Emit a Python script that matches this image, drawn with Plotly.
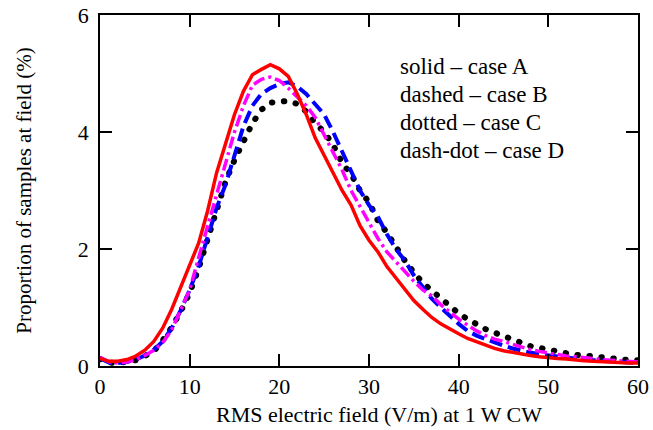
import plotly.graph_objects as go

field = list(range(0, 61))

case_a = [0.13, 0.08, 0.08, 0.11, 0.17, 0.27, 0.42, 0.65, 0.97, 1.35, 1.7,
          2.1, 2.65, 3.3, 3.8, 4.3, 4.7, 4.98, 5.07, 5.15, 5.08,
          4.95, 4.65, 4.3, 3.9, 3.6, 3.3, 3.0, 2.75, 2.4, 2.15,
          1.95, 1.7, 1.5, 1.3, 1.12, 0.97, 0.83, 0.72, 0.63, 0.55,
          0.47, 0.41, 0.35, 0.3, 0.26, 0.23, 0.2, 0.18, 0.16, 0.14,
          0.13, 0.12, 0.1, 0.09, 0.08, 0.07, 0.06, 0.06, 0.05, 0.05]

case_b = [0.13, 0.06, 0.05, 0.07, 0.11, 0.18, 0.28, 0.42, 0.65, 0.95, 1.3,
          1.7, 2.2, 2.7, 3.1, 3.6, 4.1, 4.45, 4.65, 4.75, 4.82,
          4.85, 4.78, 4.65, 4.47, 4.3, 4.0, 3.67, 3.35, 3.0, 2.75,
          2.55, 2.25, 2.0, 1.8, 1.55, 1.35, 1.15, 1.0, 0.85, 0.72,
          0.6, 0.52, 0.46, 0.4, 0.35, 0.3, 0.26, 0.23, 0.2, 0.18,
          0.16, 0.14, 0.13, 0.11, 0.1, 0.09, 0.08, 0.07, 0.06, 0.05]

case_c = [0.12, 0.06, 0.05, 0.07, 0.1, 0.17, 0.25, 0.44, 0.66, 0.93, 1.25,
          1.67, 2.15, 2.65, 3.15, 3.52, 3.86, 4.15, 4.38, 4.5, 4.52,
          4.53, 4.48, 4.35, 4.15, 4.0, 3.78, 3.47, 3.28, 3.0, 2.8,
          2.48, 2.28, 2.03, 1.8, 1.6, 1.42, 1.29, 1.15, 1.02, 0.9,
          0.8, 0.71, 0.63, 0.57, 0.51, 0.46, 0.39, 0.34, 0.31, 0.28,
          0.25, 0.21, 0.19, 0.18, 0.16, 0.14, 0.13, 0.11, 0.1, 0.1]

case_d = [0.15, 0.07, 0.05, 0.07, 0.11, 0.18, 0.27, 0.4, 0.62, 0.95, 1.3,
          1.85, 2.4, 2.9, 3.45, 4.0, 4.45, 4.8, 4.9, 4.94, 4.88,
          4.75, 4.6, 4.45, 4.25, 3.95, 3.65, 3.35, 3.0, 2.72, 2.45,
          2.18, 1.95, 1.78, 1.6, 1.45, 1.3, 1.2, 1.05, 0.93, 0.8,
          0.7, 0.6, 0.52, 0.46, 0.42, 0.37, 0.32, 0.28, 0.25, 0.22,
          0.19, 0.17, 0.16, 0.14, 0.12, 0.11, 0.1, 0.09, 0.08, 0.07]

notes = ["solid \u2013 case A", "dashed \u2013 case B",
         "dotted \u2013 case C", "dash-dot \u2013 case D"]

x_title = "RMS electric field (V/m) at 1 W CW"
y_title = "Proportion of samples at field (%)"

x_ticks = [0, 10, 20, 30, 40, 50, 60]
y_ticks = [0, 2, 4, 6]

FONT = "Liberation Serif, Times New Roman, serif"

fig = go.Figure()
fig.add_trace(go.Scatter(x=field, y=case_c, mode="lines", name="C",
                         line=dict(color="black", width=6, dash="0.5px,11.5px")))
fig.add_trace(go.Scatter(x=field, y=case_b, mode="lines", name="B",
                         line=dict(color="#0000ff", width=4, dash="13px,6px")))
fig.add_trace(go.Scatter(x=field, y=case_d, mode="lines", name="D",
                         line=dict(color="#ff00ff", width=3.5, dash="12px,4px,3px,4px")))
fig.add_trace(go.Scatter(x=field, y=case_a, mode="lines", name="A",
                         line=dict(color="#ff0000", width=3.5)))

for i, t in enumerate(notes):
    fig.add_annotation(text=t, xref="paper", yref="paper",
                       x=0.553, y=0.853 - i * 0.0798, xanchor="left", yanchor="middle",
                       showarrow=False, font=dict(family=FONT, size=23, color="black"))

# x-axis title placed as paper text so it can sit low like in the reference
fig.add_annotation(text=x_title, xref="paper", yref="paper",
                   x=0.518, y=-0.1396, xanchor="center", yanchor="middle",
                   showarrow=False, borderpad=0,
                   font=dict(family=FONT, size=22, color="black"))

axis_common = dict(showgrid=False, zeroline=False, showline=True, linecolor="black",
                   linewidth=1.5, mirror="ticks", ticks="inside", ticklen=12,
                   tickwidth=1.5, tickcolor="black", automargin=False,
                   tickfont=dict(family=FONT, size=22, color="black"))

fig.update_xaxes(range=[0, 60], tickvals=x_ticks, ticklabelstandoff=0, **axis_common)
fig.update_yaxes(range=[0, 6], tickvals=y_ticks, ticklabelstandoff=5,
                 title=dict(text=y_title,
                            font=dict(family=FONT, size=21, color="black"), standoff=40),
                 **axis_common)

fig.update_layout(width=653, height=430, showlegend=False,
                  plot_bgcolor="white", paper_bgcolor="white",
                  margin=dict(l=100, r=15, t=15, b=64))

post = """
document.body.style.margin = '0';
document.body.style.padding = '0';
var gd = document.getElementById('{plot_id}');
var paths = gd.querySelectorAll('.scatterlayer .trace path.js-line');
if (paths.length) { paths[0].style.strokeLinecap = 'round'; }
"""

fig.write_html("out.html", post_script=post, config={"displayModeBar": False})
